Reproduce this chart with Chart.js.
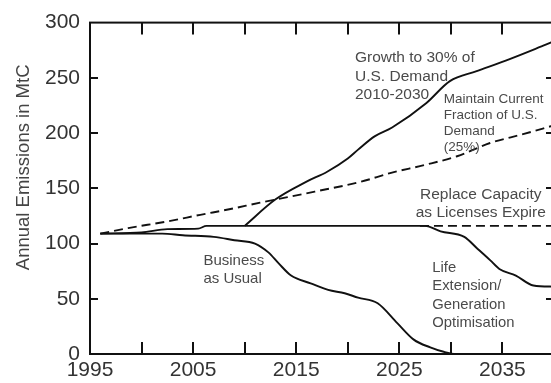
<!DOCTYPE html>
<html>
<head>
<meta charset="utf-8">
<script src="https://cdn.jsdelivr.net/npm/chart.js@4.4.1/dist/chart.umd.min.js"></script>
<style>
  html, body { margin: 0; padding: 0; background: #fff; overflow: hidden; }
  #wrap { width: 551px; height: 383px; overflow: hidden; position: relative; }
  canvas { display: block; }
</style>
</head>
<body>
<div id="wrap"><canvas id="c" width="558" height="383"></canvas></div>
<script>
// Annual carbon emissions (MtC) under several nuclear-capacity scenarios

// Business as usual
const bauYears  = [1996, 2002, 2004, 2007, 2009, 2011, 2012.3, 2013.3, 2014.5, 2016.4, 2018.1, 2019.7, 2021, 2022.9, 2024.8, 2026.4, 2028, 2029.3, 2030.5, 2035.3];
const bauValues = [109, 109, 107.5, 106, 103, 100, 92, 82, 71, 64, 58, 55, 51, 46, 28, 13, 6, 2, 0, 0];

// Life extension / generation optimisation
const lifeExtYears  = [1996, 2000, 2002.5, 2005.5, 2006.3, 2027.5, 2029, 2031.3, 2032.5, 2033.8, 2034.7, 2036.3, 2038, 2040];
const lifeExtValues = [109, 110, 113, 113.5, 116, 116, 111, 106, 96, 85, 77, 71, 62, 61];

// Replace capacity as licenses expire
const replaceYears  = [2027, 2040];
const replaceValues = [116, 116];

// Growth to 30% of U.S. demand, 2010-2030
const growthYears  = [2010, 2013, 2016, 2018, 2020, 2021, 2022.6, 2024.3, 2027.6, 2029.9, 2032.5, 2035.7, 2039.2, 2040];
const growthValues = [116, 140, 156, 165, 177, 185, 197, 205, 227, 247, 256, 267, 280, 283];

// Maintain current fraction of U.S. demand (25%)
const fractionYears  = [1996, 1998.7, 2002.5, 2005.7, 2008.5, 2011.5, 2016.8, 2021.3, 2024.2, 2027.4, 2030.6, 2033.8, 2037, 2040];
const fractionValues = [109, 114, 120, 126, 131, 137, 147, 156, 164, 171, 179, 191, 199, 207];

// Axes
const yearMin = 1995, yearMax = 2040, yearStep = 5, yearLabelStep = 10;
const valueMin = 0, valueMax = 300, valueStep = 50;
const yAxisTitle = 'Annual Emissions in MtC';

// Scenario captions: anchor [year, value] of the first line, then the lines
const captions = [
  { at: [2020.7, 268], lh: 18.5, size: 15.5, align: 'left',   lines: ['Growth to 30% of', 'U.S. Demand', '2010-2030'] },
  { at: [2029.3, 231], lh: 16,   size: 13.5, align: 'left',   lines: ['Maintain Current', 'Fraction of U.S.', 'Demand', '(25%)'] },
  { at: [2032.9, 144], lh: 17.5, size: 15.5, align: 'center', lines: ['Replace Capacity', 'as Licenses Expire'] },
  { at: [2006.0, 84],  lh: 18,   size: 15,   align: 'left',   lines: ['Business', 'as Usual'] },
  { at: [2028.2, 78],  lh: 18.5, size: 14.8, align: 'left',   lines: ['Life', 'Extension/', 'Generation', 'Optimisation'] }
];

const FONT = "'Liberation Sans', Arial, sans-serif";
const pts = (xs, ys) => xs.map((x, i) => ({ x, y: ys[i] }));

const solid = { borderColor: '#111', borderWidth: 1.9, pointRadius: 0, cubicInterpolationMode: 'monotone', fill: false };
const dashed = Object.assign({}, solid, { borderDash: [9, 5] });

// Frame, inward tick marks, captions and the rotated axis title
const framePlugin = {
  id: 'frame',
  afterDatasetsDraw(chart) {
    const { ctx, chartArea: a, scales: { x, y } } = chart;
    ctx.save();
    ctx.strokeStyle = '#111';
    ctx.lineWidth = 2;
    ctx.strokeRect(a.left, a.top, a.right - a.left, a.bottom - a.top);
    ctx.beginPath();
    for (let v = yearMin + yearStep; v < yearMax; v += yearStep) {
      const px = Math.round(x.getPixelForValue(v));
      ctx.moveTo(px, a.bottom); ctx.lineTo(px, a.bottom - 12);
      ctx.moveTo(px, a.top);    ctx.lineTo(px, a.top + 12);
    }
    for (let v = valueMin + valueStep; v < valueMax; v += valueStep) {
      const py = Math.round(y.getPixelForValue(v));
      ctx.moveTo(a.left, py);  ctx.lineTo(a.left + 8, py);
      ctx.moveTo(a.right, py); ctx.lineTo(a.right - 8, py);
    }
    ctx.stroke();

    ctx.fillStyle = '#4a4a4a';
    ctx.textBaseline = 'middle';
    captions.forEach(c => {
      ctx.font = c.size + 'px ' + FONT;
      ctx.textAlign = c.align;
      const px = x.getPixelForValue(c.at[0]);
      const py = y.getPixelForValue(c.at[1]);
      c.lines.forEach((t, i) => ctx.fillText(t, px, py + i * c.lh));
    });

    ctx.translate(24, y.getPixelForValue(169));
    ctx.rotate(-Math.PI / 2);
    ctx.textAlign = 'center';
    ctx.font = '18.5px ' + FONT;
    ctx.fillStyle = '#444';
    ctx.fillText(yAxisTitle, 0, 0);
    ctx.restore();
  }
};

new Chart(document.getElementById('c'), {
  type: 'line',
  data: {
    datasets: [
      Object.assign({ data: pts(bauYears, bauValues) }, solid),
      Object.assign({ data: pts(lifeExtYears, lifeExtValues) }, solid),
      Object.assign({ data: pts(replaceYears, replaceValues) }, dashed),
      Object.assign({ data: pts(growthYears, growthValues) }, solid),
      Object.assign({ data: pts(fractionYears, fractionValues) }, dashed)
    ]
  },
  options: {
    responsive: false,
    animation: false,
    devicePixelRatio: 1,
    layout: { padding: { top: 20, right: 0, bottom: 0, left: 0 } },
    plugins: { legend: { display: false }, tooltip: { enabled: false } },
    scales: {
      x: {
        type: 'linear', min: yearMin, max: yearMax,
        grid: { display: false, drawTicks: false },
        border: { display: false },
        ticks: {
          stepSize: yearStep, autoSkip: false, maxRotation: 0, padding: 4,
          color: '#333', font: { family: FONT, size: 21 },
          callback: v => ((v - yearMin) % yearLabelStep === 0 && v < yearMax) ? String(v) : ''
        },
        afterFit: s => { s.height = 29; }
      },
      y: {
        min: valueMin, max: valueMax,
        grid: { display: false, drawTicks: false },
        border: { display: false },
        ticks: { stepSize: valueStep, padding: 10, color: '#333', font: { family: FONT, size: 21 } },
        afterFit: s => { s.width = 90; }
      }
    }
  },
  plugins: [framePlugin]
});
</script>
</body>
</html>
